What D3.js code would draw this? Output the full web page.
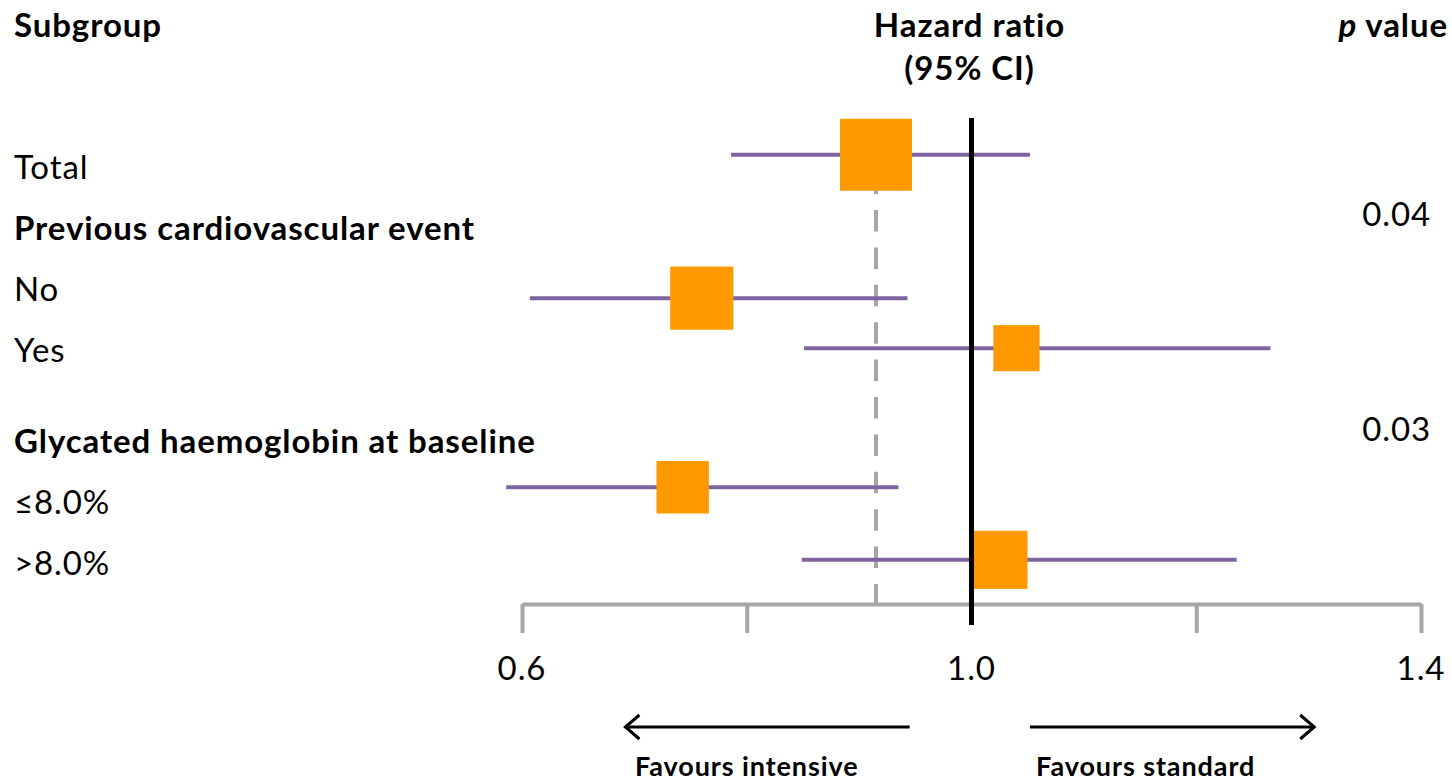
<!DOCTYPE html>
<html>
<head>
<meta charset="utf-8">
<script src="https://cdn.jsdelivr.net/npm/d3@7"></script>
<style>
  html, body { margin: 0; padding: 0; background: #fff; }
  svg { display: block; font-family: Lato, "Open Sans", sans-serif; }
  svg text { letter-spacing: 0.9px; }
</style>
</head>
<body>
<svg id="chart" width="1452" height="783"></svg>
<script>
/* Forest plot: hazard ratio by subgroup */

// left column text
const rowLabels = ['Total', 'Previous cardiovascular event', 'No', 'Yes',
  'Glycated haemoglobin at baseline', '≤8.0%', '>8.0%'];
const rowIsHeading = [false, true, false, false, true, false, false];
const rowIndex = [0, 1, 2, 3, 4.5, 5.5, 6.5];

// estimates
const estLabels = ['Total', 'No', 'Yes', '≤8.0%', '>8.0%'];
const estRow = [-0.2, 2.15, 2.97, 5.25, 6.44];
const hr = [0.915, 0.76, 1.04, 0.743, 1.024];
const ciLow = [0.786, 0.607, 0.851, 0.586, 0.849];
const ciHigh = [1.052, 0.943, 1.266, 0.935, 1.236];
const weight = [100, 77, 41, 53, 65];

// interaction p values
const pValues = ['0.04', '0.03'];
const pRow = [0.78, 4.3];

// axis
const tickValues = [0.6, 0.8, 1.2, 1.4];
const tickLabels = [0.6, 1.0, 1.4];

const ORANGE = '#ff9900';
const PURPLE = '#8064a2';
const GREY = '#a6a6a6';
const FS = 33;

const svg = d3.select('#chart');

const x = d3.scaleLinear().domain([0.6, 1.4]).range([522, 1421]);
const y = d3.scaleLinear().domain([0, 1]).range([167, 228]);
const size = d3.scaleSqrt().domain([0, 100]).range([0, 72]);
const axisY = 604;

// ============================================================
// Headers
// ============================================================

const head = svg.append('g').attr('font-weight', 700).attr('font-size', FS).attr('fill', '#000');
head.append('text').attr('x', 14).attr('y', 37).text('Subgroup');
head.append('text').attr('x', x(1) - 2).attr('y', 37).attr('text-anchor', 'middle').text('Hazard ratio');
head.append('text').attr('x', x(1) - 2).attr('y', 80).attr('text-anchor', 'middle').text('(95% CI)');
const pv = head.append('text').attr('x', 1448).attr('y', 37).attr('text-anchor', 'end');
pv.append('tspan').attr('font-style', 'italic').text('p');
pv.append('tspan').text(' value');

// ============================================================
// Row labels + p values
// ============================================================

svg.append('g').selectAll('text')
  .data(rowLabels)
  .join('text')
  .attr('x', 14)
  .attr('y', (d, i) => y(rowIndex[i]))
  .attr('dy', '0.35em')
  .attr('font-size', FS)
  .attr('font-weight', (d, i) => rowIsHeading[i] ? 700 : 400)
  .text(d => d);

svg.append('g').selectAll('text')
  .data(pValues)
  .join('text')
  .attr('x', 1431)
  .attr('y', (d, i) => y(pRow[i]))
  .attr('dy', '0.35em')
  .attr('text-anchor', 'end')
  .attr('font-size', FS)
  .text(d => d);

// ============================================================
// Axis
// ============================================================

const axis = d3.axisBottom(x).tickValues(tickValues).tickSize(29).tickSizeOuter(0).tickFormat('');
const ax = svg.append('g').attr('transform', `translate(0,${axisY})`).call(axis);
ax.select('.domain').attr('stroke', GREY).attr('stroke-width', 4);
ax.selectAll('.tick line').attr('stroke', GREY).attr('stroke-width', 4);

svg.append('g').selectAll('text')
  .data(tickLabels)
  .join('text')
  .attr('x', d => x(d))
  .attr('y', 680)
  .attr('text-anchor', 'middle')
  .attr('font-size', FS)
  .text(d => d3.format('.1f')(d));

// ============================================================
// Reference lines
// ============================================================

svg.append('line')
  .attr('x1', x(hr[0])).attr('x2', x(hr[0]))
  .attr('y1', y(estRow[0])).attr('y2', axisY)
  .attr('stroke', GREY).attr('stroke-width', 4)
  .attr('stroke-dasharray', '21.5,15.9').attr('stroke-dashoffset', 19.6);

// ============================================================
// CI lines + squares
// ============================================================

const rows = svg.append('g').selectAll('g')
  .data(estLabels)
  .join('g');

rows.append('line')
  .attr('x1', (d, i) => x(ciLow[i]))
  .attr('x2', (d, i) => x(ciHigh[i]))
  .attr('y1', (d, i) => y(estRow[i]))
  .attr('y2', (d, i) => y(estRow[i]))
  .attr('stroke', PURPLE).attr('stroke-width', 4);

svg.append('line')
  .attr('x1', x(1)).attr('x2', x(1))
  .attr('y1', 118).attr('y2', 625)
  .attr('stroke', '#000').attr('stroke-width', 5);

rows.append('rect')
  .attr('x', (d, i) => x(hr[i]) - size(weight[i]) / 2)
  .attr('y', (d, i) => y(estRow[i]) - size(weight[i]) / 2)
  .attr('width', (d, i) => size(weight[i]))
  .attr('height', (d, i) => size(weight[i]))
  .attr('fill', ORANGE);

// ============================================================
// Direction arrows
// ============================================================

const arrows = [
  { from: 0.945, to: 0.692, label: 'Favours intensive', at: 0.8 },
  { from: 1.052, to: 1.305, label: 'Favours standard', at: 1.155 },
];
const arrowY = 727;

arrows.forEach(a => {
  const dir = a.to > a.from ? 1 : -1;
  const tip = x(a.to);
  svg.append('line')
    .attr('x1', x(a.from)).attr('x2', tip)
    .attr('y1', arrowY).attr('y2', arrowY)
    .attr('stroke', '#000').attr('stroke-width', 3);
  svg.append('path')
    .attr('d', `M${tip - dir * 14},${arrowY - 12}L${tip},${arrowY}L${tip - dir * 14},${arrowY + 12}`)
    .attr('fill', 'none').attr('stroke', '#000').attr('stroke-width', 3);
  svg.append('text')
    .attr('x', x(a.at)).attr('y', 776)
    .attr('text-anchor', 'middle')
    .attr('font-size', 27).attr('font-weight', 700)
    .attr('letter-spacing', '0.6px')
    .text(a.label);
});
</script>
</body>
</html>
